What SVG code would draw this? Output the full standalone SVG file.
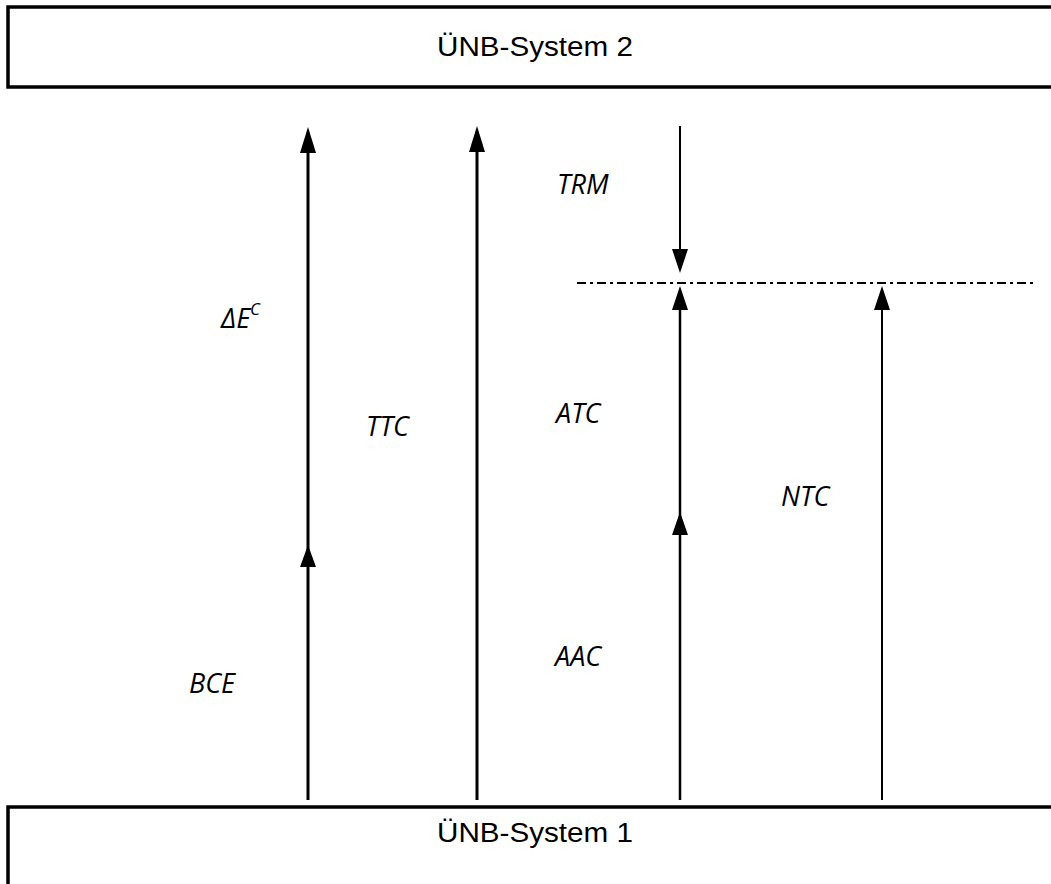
<svg xmlns="http://www.w3.org/2000/svg" width="1051" height="884" viewBox="0 0 1051 884">
<style>
.box{fill:#fff;stroke:#000;stroke-width:3.5}
.bt{font-family:"Liberation Sans",Arial,sans-serif;font-size:27px;fill:#000}
.lb{font-family:"Open Sans","Noto Sans",sans-serif;font-style:italic;font-size:27px;fill:#000}
.ln{stroke:#000;fill:none}
.ah{fill:#000}
</style>
<g id="system2">
<rect class="box" x="8" y="7" width="1060" height="80"/>
<text class="bt" x="535" y="56" text-anchor="middle" textLength="196" lengthAdjust="spacingAndGlyphs">ÜNB-System 2</text>
</g>
<g id="system1">
<rect class="box" x="8" y="807" width="1060" height="100"/>
<text class="bt" x="535" y="842" text-anchor="middle" textLength="196" lengthAdjust="spacingAndGlyphs">ÜNB-System 1</text>
</g>
<g id="connectors">
<line class="ln" x1="308" y1="800" x2="308" y2="567" stroke-width="3"/>
<path class="ah" d="M300,567 L308,545 L316,567 Z"/>
<line class="ln" x1="308" y1="567" x2="308" y2="152" stroke-width="3"/>
<path class="ah" d="M300,153 L308,127 L316,153 Z"/>
<line class="ln" x1="477" y1="800" x2="477" y2="150" stroke-width="3"/>
<path class="ah" d="M469,152 L477,126 L485,152 Z"/>
<line class="ln" x1="680" y1="800" x2="680" y2="535" stroke-width="2.5"/>
<path class="ah" d="M672,535 L680,512 L688,535 Z"/>
<line class="ln" x1="680" y1="535" x2="680" y2="309" stroke-width="2.5"/>
<path class="ah" d="M672,310 L680,286 L688,310 Z"/>
<line class="ln" x1="680" y1="126" x2="680" y2="250" stroke-width="2"/>
<path class="ah" d="M672,249 L680,273 L688,249 Z"/>
<line class="ln" x1="882" y1="800" x2="882" y2="309" stroke-width="2"/>
<path class="ah" d="M874,310 L882,286 L890,310 Z"/>
<line class="ln" x1="577" y1="283" x2="1035" y2="283" stroke-width="2" stroke-dasharray="9 4 3 4"/>
</g>
<g id="labels">
<text class="lb" x="221" y="328">ΔE<tspan font-size="17" dy="-13">C</tspan></text>
<text class="lb" x="366" y="436">TTC</text>
<text class="lb" x="557" y="194">TRM</text>
<text class="lb" x="556" y="423">ATC</text>
<text class="lb" x="781" y="506">NTC</text>
<text class="lb" x="555" y="666">AAC</text>
<text class="lb" x="189" y="693">BCE</text>
</g>
</svg>
